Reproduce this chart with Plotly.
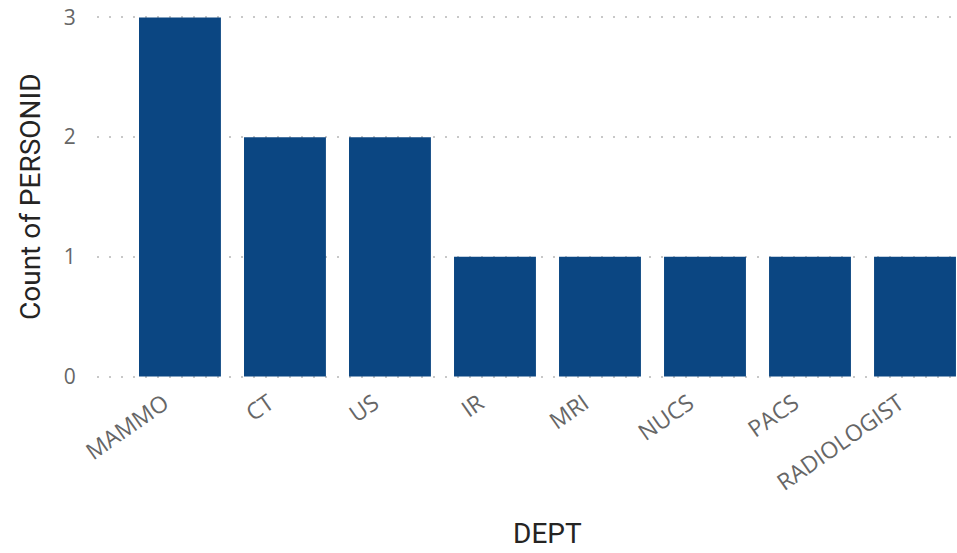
import plotly.graph_objects as go

depts = ["MAMMO", "CT", "US", "IR", "MRI", "NUCS", "PACS", "RADIOLOGIST"]
counts = [3, 2, 2, 1, 1, 1, 1, 1]
y_ticks = [0, 1, 2, 3]

TOP, BOTTOM = 15, 174
PLOT_H = 553 - TOP - BOTTOM
Y0 = -0.02
Y1 = 3.02


def paper_y(px):
    # convert page pixel y to paper fraction
    return (553 - BOTTOM - px) / PLOT_H


fig = go.Figure()
fig.add_trace(go.Bar(
    x=list(range(len(depts))), y=counts,
    marker=dict(color="#0B4682", line=dict(width=0)),
    width=0.78,
))

title_font = dict(size=28, color="#252423",
                  family="Roboto, DejaVu Sans, sans-serif")

fig.update_layout(
    width=957, height=553,
    margin=dict(l=97, r=0, t=TOP, b=BOTTOM),
    paper_bgcolor="white", plot_bgcolor="white",
    showlegend=False,
    font=dict(family="Open Sans, Noto Sans, sans-serif"),
    xaxis=dict(
        range=[-0.79, 7.4],
        tickmode="array",
        tickvals=list(range(len(depts))),
        ticktext=depts,
        tickangle=-35,
        tickfont=dict(size=23, color="#666666"),
        ticklabelshift=-16,
        showgrid=False, zeroline=False, showline=False,
        ticks="outside", ticklen=1, tickcolor="rgba(0,0,0,0)",
    ),
    yaxis=dict(
        range=[Y0, Y1],
        tickvals=y_ticks,
        tickfont=dict(size=21, color="#666666"),
        showgrid=True, gridcolor="#c8c8c8", gridwidth=2,
        griddash="2px,10px",
        zeroline=False, showline=False,
        ticks="outside", ticklen=16, tickcolor="rgba(0,0,0,0)",
    ),
)
fig.add_annotation(
    text="DEPT", x=3.5, xref="x", y=paper_y(533), yref="paper",
    showarrow=False, xanchor="center", yanchor="middle", font=title_font,
)
fig.add_annotation(
    text="Count of PERSONID", xref="paper", yref="paper",
    x=-(97 - 30) / 860, y=paper_y(197), textangle=-90,
    showarrow=False, xanchor="center", yanchor="middle", font=title_font,
)

fig.write_html("out.html", config={"displayModeBar": False},
               post_script="document.body.style.margin='0';")
